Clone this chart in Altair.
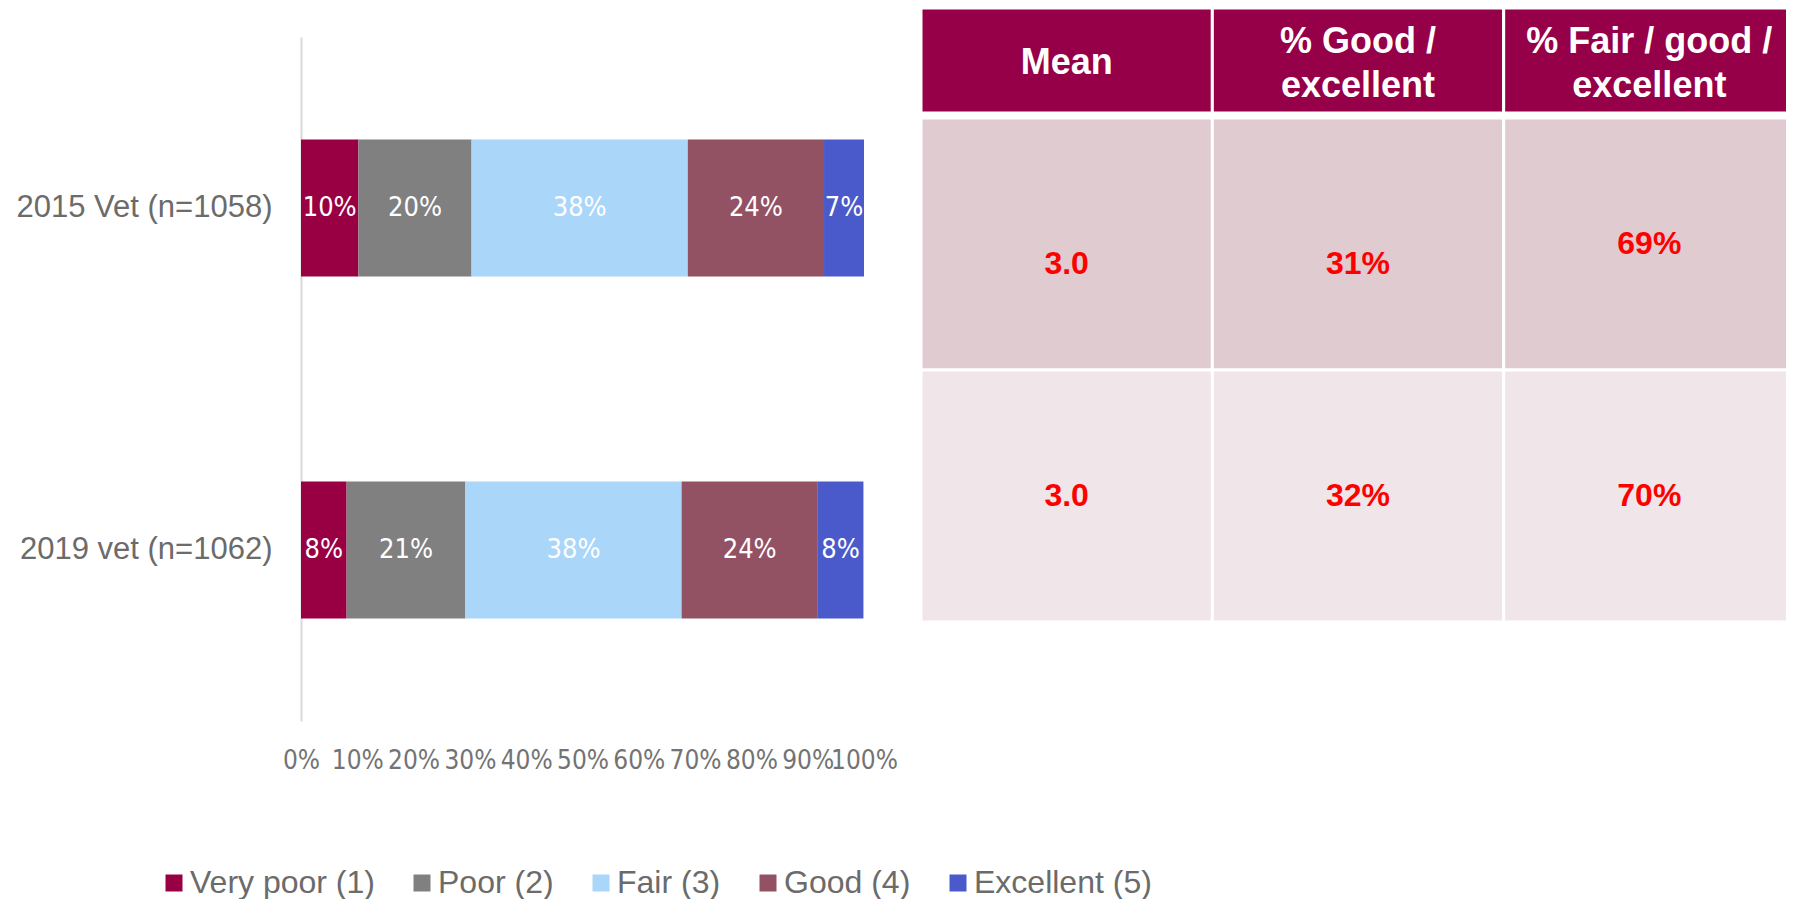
import altair as alt
import pandas as pd

# ---------------- data ----------------
groups = ["2015 Vet (n=1058)", "2019 vet (n=1062)"]
categories = ["Very poor (1)", "Poor (2)", "Fair (3)", "Good (4)", "Excellent (5)"]
shares_2015 = [0.102, 0.201, 0.384, 0.242, 0.071]
shares_2019 = [0.081, 0.211, 0.384, 0.242, 0.081]
bar_colors = ["#990044", "#808080", "#A9D6F9", "#925264", "#4A5ACB"]
x_ticks = [0.0, 0.1, 0.2, 0.3, 0.4, 0.5, 0.6, 0.7, 0.8, 0.9, 1.0]

table_columns = ["Mean", "% Good /\nexcellent", "% Fair / good /\nexcellent"]
table_rows = ["2015", "2019"]
mean_scores = [3.0, 3.0]
pct_good_excellent = [0.31, 0.32]
pct_fair_good_excellent = [0.69, 0.70]
row_colors = ["#DFCBD0", "#F0E5E9"]
header_color = "#960048"

FONT = "Liberation Sans"
NARROW = "'Liberation Sans Narrow', 'DejaVu Sans Condensed', 'Liberation Sans', sans-serif"
GREY = "#6B6B6B"

# ---------------- tables built from the lists ----------------
bar_rows = []
for g, shares in zip(groups, [shares_2015, shares_2019]):
    for i, (c, v) in enumerate(zip(categories, shares)):
        bar_rows.append({"group": g, "category": c, "idx": i, "value": v})
bars_df = pd.DataFrame(bar_rows)

col_keys = [f"c{i}" for i in range(len(table_columns))]
header_df = pd.DataFrame({
    "ck": col_keys,
    "title": table_columns,
    "nlines": [t.count("\n") + 1 for t in table_columns],
    "part": ["header"] * len(table_columns),
})

body_rows = []
for ri, (r, m, ge, fge) in enumerate(zip(table_rows, mean_scores, pct_good_excellent, pct_fair_good_excellent)):
    for ci, lab in enumerate([f"{m:.1f}", f"{ge:.0%}", f"{fge:.0%}"]):
        body_rows.append({"row": r, "ri": ri, "ck": col_keys[ci], "ci": ci, "label": lab})
body_df = pd.DataFrame(body_rows)

# ---------------- scales ----------------
xs = alt.Scale(domain=[0, 1], range=[0, 563], nice=False)
ys = alt.Scale(domain=groups, paddingInner=0.6, paddingOuter=0.3)
col_scale = alt.Scale(domain=col_keys, range=[620, 1494], paddingInner=0, paddingOuter=0)
head_scale = alt.Scale(domain=["header"], range=[-29, 76], paddingInner=0, paddingOuter=0)
body_scale = alt.Scale(domain=table_rows, range=[81, 585], paddingInner=0, paddingOuter=0)

# ---------------- stacked bars ----------------
base = alt.Chart(bars_df).transform_stack(
    stack="value", groupby=["group"], sort=[alt.SortField("idx", order="ascending")], as_=["x0", "x1"]
).transform_calculate(mid="(datum.x0 + datum.x1) / 2")

bars = base.mark_bar().encode(
    x=alt.X("x0:Q", scale=xs, title=None,
            axis=alt.Axis(values=x_ticks, format=".0%", domain=False, ticks=False, grid=False,
                          labelFontSize=26, labelColor="#737373", labelPadding=26, labelOverlap=False,
                          labelFlush=False, labelFont=NARROW)),
    x2="x1:Q",
    y=alt.Y("group:N", scale=ys, sort=groups, title=None,
            axis=alt.Axis(domain=True, domainColor="#D9D9D9", domainWidth=2, ticks=False, grid=False,
                          labelFontSize=31, labelColor=GREY, labelPadding=29, labelLimit=500,
                          labelFont=FONT)),
    color=alt.Color("category:N", scale=alt.Scale(domain=categories, range=bar_colors), title=None,
                    legend=alt.Legend(orient="none", legendX=-143, legendY=830, direction="horizontal",
                                      symbolType="square", symbolSize=289, symbolStrokeWidth=0,
                                      labelFontSize=32, labelColor=GREY, labelLimit=500, labelFont=FONT,
                                      columnPadding=31, labelOffset=0, padding=0)),
    order=alt.Order("idx:Q"),
)

bar_text = base.mark_text(color="white", fontSize=27, font=NARROW, align="center", baseline="middle").encode(
    x=alt.X("mid:Q", scale=xs, axis=None),
    y=alt.Y("group:N", scale=ys, sort=groups, axis=None),
    text=alt.Text("value:Q", format=".0%"),
)

# ---------------- table ----------------
head_rect = alt.Chart(header_df).mark_rect(fill=header_color, stroke="white", strokeWidth=3).encode(
    x=alt.X("ck:N", scale=col_scale, axis=None, sort=col_keys),
    y=alt.Y("part:N", scale=head_scale, axis=None),
)


def head_text_layer(cond, dy):
    return alt.Chart(header_df).transform_filter(cond).mark_text(
        color="white", fontSize=36, fontWeight="bold", font=FONT, lineBreak="\n", lineHeight=44,
        align="center", baseline="middle", dy=dy
    ).encode(
        x=alt.X("ck:N", scale=col_scale, axis=None, sort=col_keys),
        y=alt.Y("part:N", scale=head_scale, axis=None),
        text="title:N",
    )


head_text_1 = head_text_layer("datum.nlines == 1", 2)
head_text_2 = head_text_layer("datum.nlines == 2", -19)

body_rect = alt.Chart(body_df).mark_rect(stroke="white", strokeWidth=3).encode(
    x=alt.X("ck:N", scale=col_scale, axis=None, sort=col_keys),
    y=alt.Y("row:N", scale=body_scale, axis=None, sort=table_rows),
    color=alt.Color("row:N", scale=alt.Scale(domain=table_rows, range=row_colors), legend=None),
)

shift_cond = "datum.ri == 0 && datum.ci < 2"


def body_text_layer(cond, dy):
    return alt.Chart(body_df).transform_filter(cond).mark_text(
        color="#FF0000", fontSize=32, fontWeight="bold", font=FONT, align="center", baseline="middle", dy=dy
    ).encode(
        x=alt.X("ck:N", scale=col_scale, axis=None, sort=col_keys),
        y=alt.Y("row:N", scale=body_scale, axis=None, sort=table_rows),
        text="label:N",
    )


body_text = body_text_layer("!(" + shift_cond + ")", 0)
body_text_low = body_text_layer(shift_cond, 20)

chart = alt.layer(
    bars, bar_text, head_rect, head_text_1, head_text_2, body_rect, body_text, body_text_low
).resolve_scale(
    x="independent", y="independent", color="independent"
).properties(
    width=1485, height=684,
    autosize=alt.AutoSizeParams(type="none"),
    padding={"left": 293, "top": 29, "right": 0, "bottom": 178},
    background="white",
).configure(font=FONT).configure_view(stroke=None)

chart.save("out.html", embed_options={"renderer": "svg", "actions": False})
